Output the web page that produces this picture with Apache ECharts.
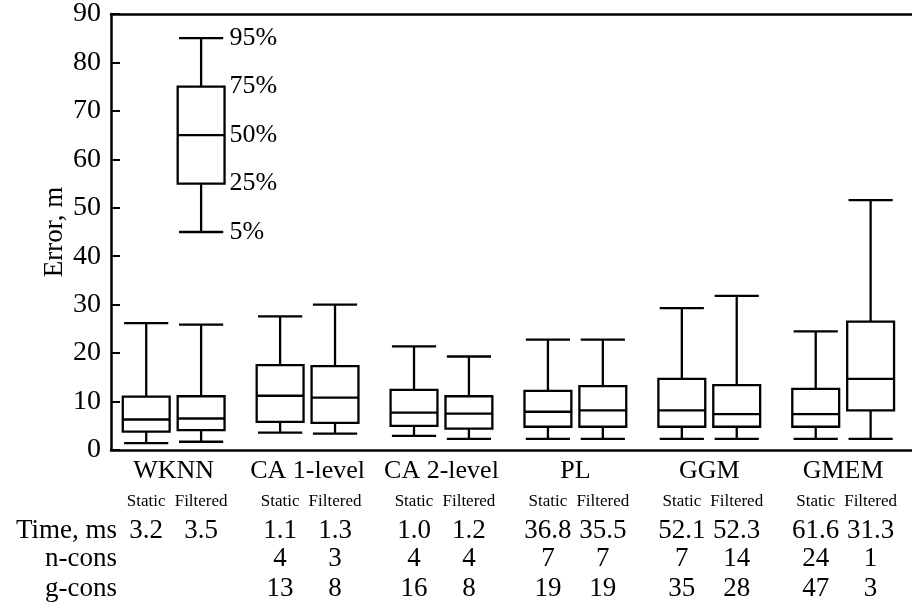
<!DOCTYPE html>
<html>
<head>
<meta charset="utf-8">
<script src="https://cdn.jsdelivr.net/npm/echarts@6/dist/echarts.min.js"></script>
<style>
  html, body { margin: 0; padding: 0; background: #fff; }
  #chart { width: 912px; height: 612px; }
</style>
</head>
<body>
<div id="chart"></div>
<script>
// Localisation methods and the two processing variants
const groupNames = ['WKNN', 'CA 1-level', 'CA 2-level', 'PL', 'GGM', 'GMEM'];
const variantNames = ['Static', 'Filtered'];

// Error percentiles per method: [5%, 25%, 50%, 75%, 95%], metres
const staticBoxes = [
  [1.4, 3.8, 6.3, 11.0, 26.2],
  [3.6, 5.8, 11.2, 17.5, 27.6],
  [2.9, 5.0, 7.7, 12.4, 21.4],
  [2.3, 4.8, 7.9, 12.2, 22.8],
  [2.3, 4.8, 8.2, 14.7, 29.3],
  [2.3, 4.8, 7.4, 12.6, 24.5]
];
const filteredBoxes = [
  [1.7, 4.1, 6.5, 11.1, 25.9],
  [3.4, 5.6, 10.8, 17.3, 30.0],
  [2.3, 4.4, 7.5, 11.1, 19.3],
  [2.3, 4.8, 8.2, 13.2, 22.8],
  [2.3, 4.8, 7.4, 13.4, 31.8],
  [2.3, 8.2, 14.7, 26.5, 51.6]
];

// Key box explaining the percentiles
const keyBox = [45, 55, 65, 75, 85];
const keyLabels = ['5%', '25%', '50%', '75%', '95%'];

// Table under the plot, one entry per box (Static, Filtered, Static, ...)
const rowNames = ['Time, ms', 'n-cons', 'g-cons'];
const timeMs = ['3.2', '3.5', '1.1', '1.3', '1.0', '1.2', '36.8', '35.5', '52.1', '52.3', '61.6', '31.3'];
const nCons = ['', '', '4', '3', '4', '4', '7', '7', '7', '14', '24', '1'];
const gCons = ['', '', '13', '8', '16', '8', '19', '19', '35', '28', '47', '3'];

const yTicks = [0, 10, 20, 30, 40, 50, 60, 70, 80, 90];

const FONT = '"Liberation Serif", "Times New Roman", serif';
const SIDE = 0.205;      // half distance between the two boxes of a group (axis units)
const BOX_W = 0.35;      // box width (axis units)
const CAP_W = 0.33;      // whisker cap width (axis units)
const LW = 2.3;

const offsets = [-SIDE, SIDE];
const boxData = [];
groupNames.forEach((g, k) => {
  [staticBoxes[k], filteredBoxes[k]].forEach((b, v) => {
    boxData.push([k + offsets[v]].concat(b));
  });
});
const keyData = [[0 + SIDE].concat(keyBox)];

function drawBox(params, api, withLabels) {
  const x = api.value(0);
  const p = [1, 2, 3, 4, 5].map(i => api.coord([x, api.value(i)]));
  const cx = p[0][0];
  const hw = api.size([BOX_W, 0])[0] / 2;
  const cw = api.size([CAP_W, 0])[0] / 2;
  const style = { stroke: '#000', lineWidth: LW, fill: null };
  const children = [
    { type: 'line', shape: { x1: cx - cw, y1: p[0][1], x2: cx + cw, y2: p[0][1] }, style },
    { type: 'line', shape: { x1: cx, y1: p[0][1], x2: cx, y2: p[1][1] }, style },
    { type: 'rect', shape: { x: cx - hw, y: p[3][1], width: hw * 2, height: p[1][1] - p[3][1] }, style },
    { type: 'line', shape: { x1: cx - hw, y1: p[2][1], x2: cx + hw, y2: p[2][1] }, style },
    { type: 'line', shape: { x1: cx, y1: p[3][1], x2: cx, y2: p[4][1] }, style },
    { type: 'line', shape: { x1: cx - cw, y1: p[4][1], x2: cx + cw, y2: p[4][1] }, style }
  ];
  if (withLabels) {
    keyLabels.forEach((t, i) => {
      children.push({
        type: 'text',
        style: {
          text: t, x: cx + hw + 5, y: p[i][1],
          fill: '#000', font: '26px ' + FONT,
          align: 'left', verticalAlign: 'middle'
        }
      });
    });
  }
  return { type: 'group', children };
}

const chart = echarts.init(document.getElementById('chart'), null, { renderer: 'canvas' });

const xMin = -0.468, xMax = 5.514;

chart.setOption({
  animation: false,
  backgroundColor: '#fff',
  grid: { left: 111, right: 0, top: 13, bottom: 162, containLabel: false },
  xAxis: [
    {
      type: 'value', min: xMin, max: xMax, position: 'bottom',
      axisLine: { show: true, onZero: false, lineStyle: { color: '#000', width: 2.5 } },
      axisTick: { show: false }, axisLabel: { show: false }, splitLine: { show: false }
    },
    {
      type: 'value', min: xMin, max: xMax, position: 'top',
      axisLine: { show: true, onZero: false, lineStyle: { color: '#000', width: 2.5 } },
      axisTick: { show: false }, axisLabel: { show: false }, splitLine: { show: false }
    }
  ],
  yAxis: {
    type: 'value', min: 0, max: 90, interval: 10,
    name: 'Error, m', nameLocation: 'middle', nameGap: 43, nameMoveOverlap: false,
    nameTextStyle: { color: '#000', fontFamily: FONT, fontSize: 27 },
    axisLine: { show: true, onZero: false, lineStyle: { color: '#000', width: 2.5 } },
    axisTick: { show: true, inside: true, length: 9, lineStyle: { color: '#000', width: 2 } },
    axisLabel: {
      color: '#000', fontFamily: FONT, fontSize: 28, margin: 10,
      formatter: v => (yTicks.indexOf(v) >= 0 ? String(v) : '')
    },
    splitLine: { show: false }
  },
  series: [
    {
      type: 'custom', name: 'boxes', xAxisIndex: 0, yAxisIndex: 0, clip: false,
      renderItem: (params, api) => drawBox(params, api, false),
      data: boxData
    },
    {
      type: 'custom', name: 'key', xAxisIndex: 0, yAxisIndex: 0, clip: false,
      renderItem: (params, api) => drawBox(params, api, true),
      data: keyData
    }
  ]
});

// Labels and table rows placed under the plot, aligned with the boxes
const toX = v => chart.convertToPixel({ xAxisIndex: 0 }, v);
const texts = [];
function addText(t, x, y, size, align) {
  texts.push({
    type: 'text', x, y, silent: true,
    style: { text: t, fill: '#000', font: size + 'px ' + FONT, align: align || 'center', verticalAlign: 'middle' }
  });
}
const rowY = { group: 471, variant: 502, time: 531, n: 559, g: 589 };
groupNames.forEach((g, k) => {
  addText(g, toX(k), rowY.group, 26);
  variantNames.forEach((vn, v) => {
    const i = k * 2 + v;
    const x = toX(k + offsets[v]);
    addText(vn, x, rowY.variant, 17);
    addText(timeMs[i], x, rowY.time, 27);
    addText(nCons[i], x, rowY.n, 27);
    addText(gCons[i], x, rowY.g, 27);
  });
});
addText(rowNames[0], 117, rowY.time, 27, 'right');
addText(rowNames[1], 117, rowY.n, 27, 'right');
addText(rowNames[2], 117, rowY.g, 27, 'right');

chart.setOption({ graphic: texts });
</script>
</body>
</html>
